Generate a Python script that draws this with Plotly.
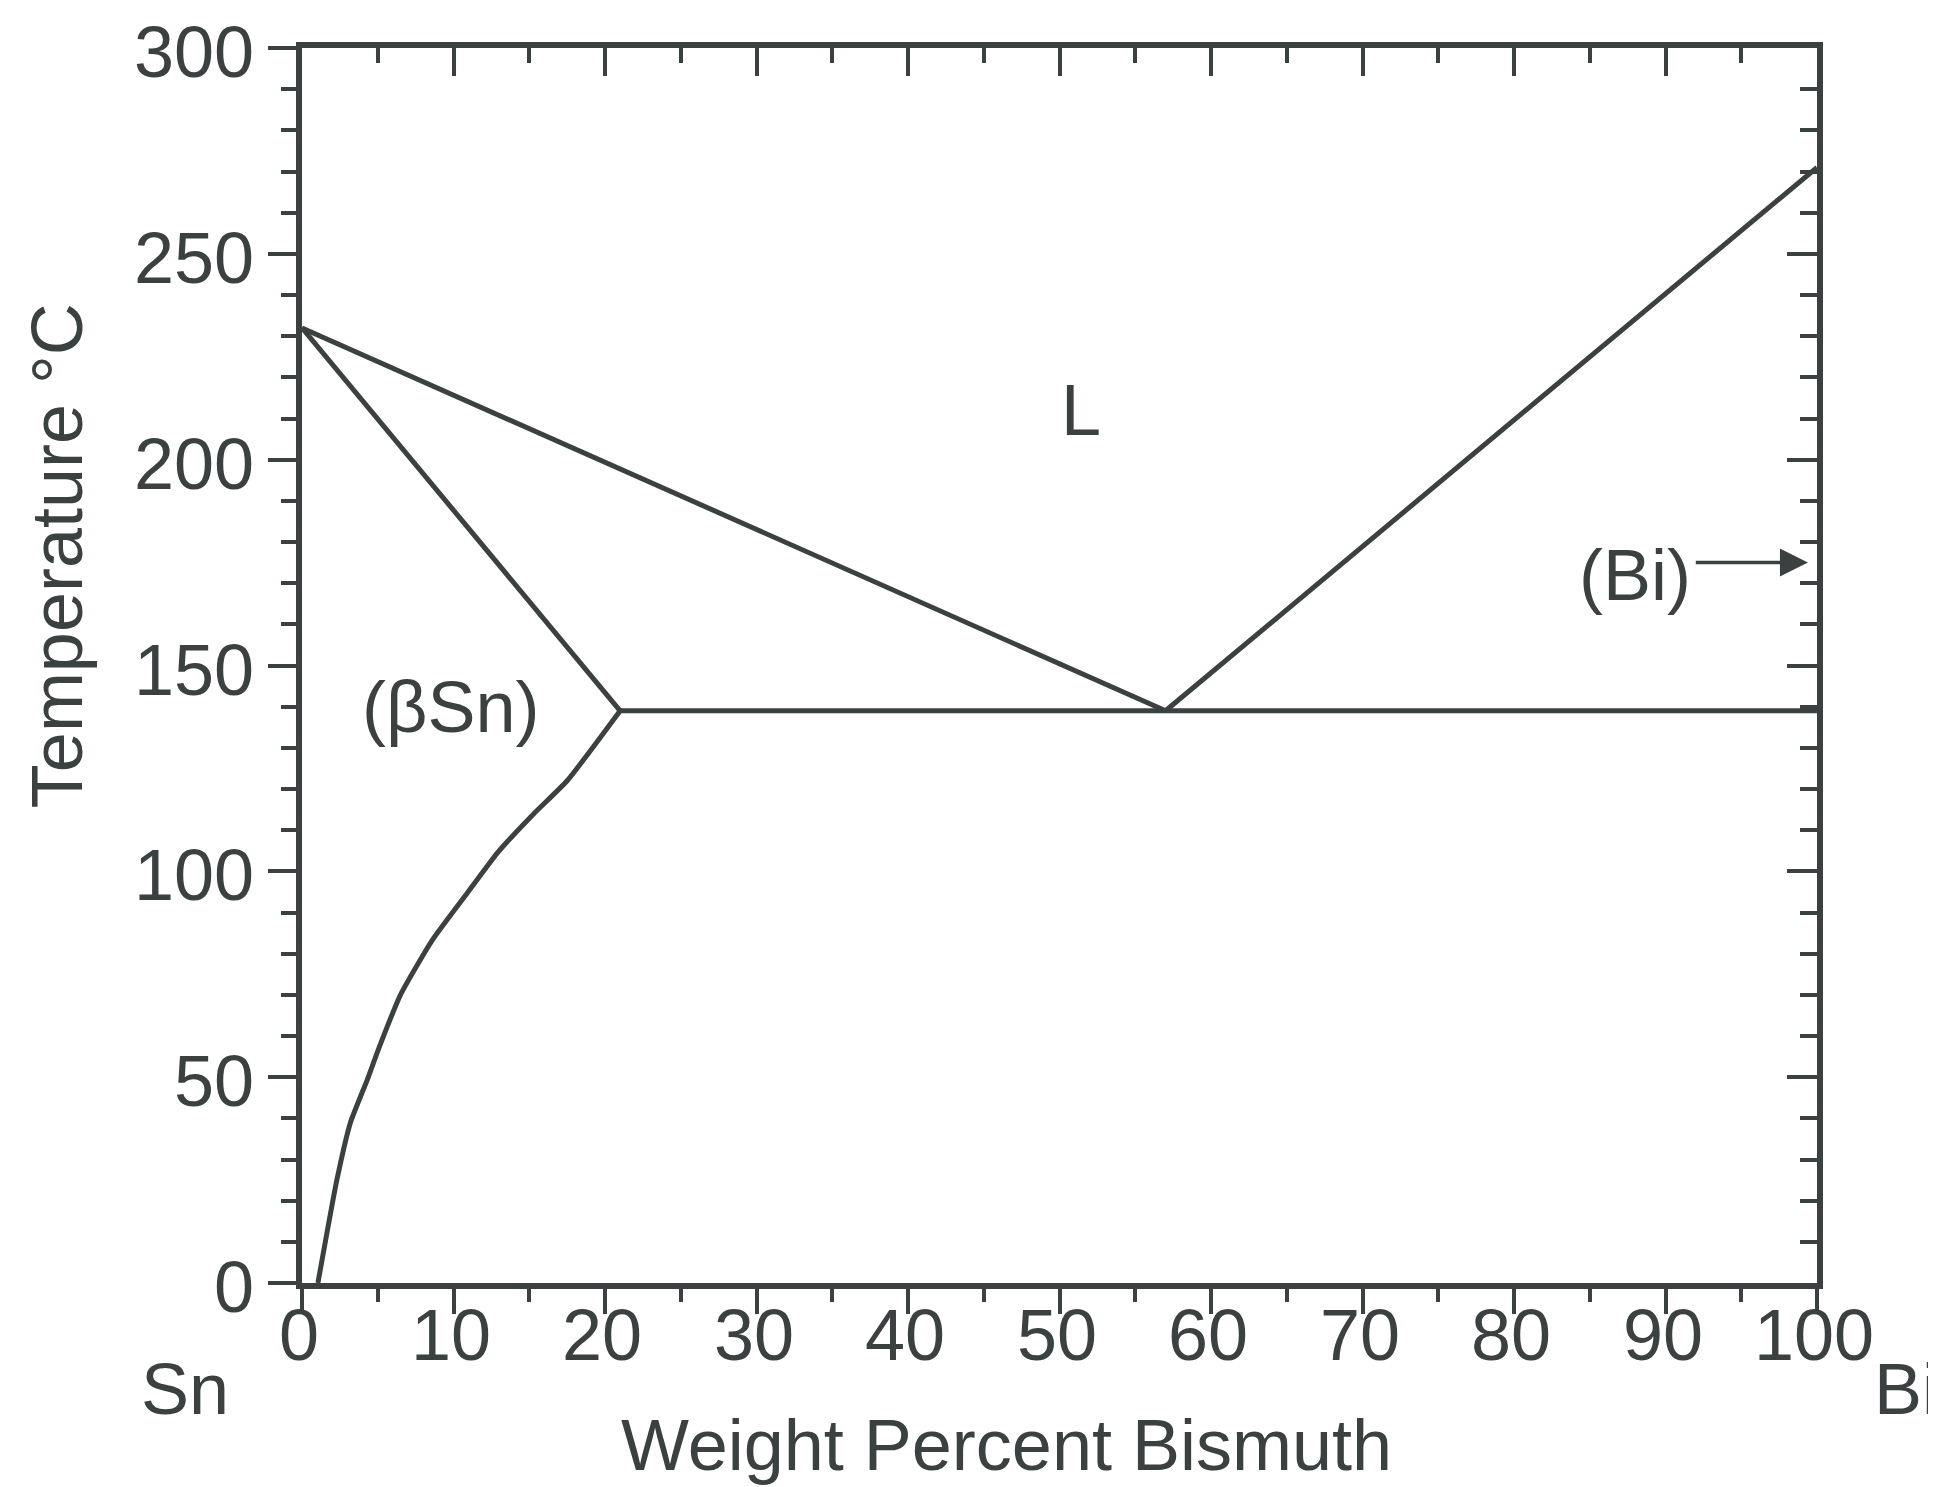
import plotly.graph_objects as go

# ---- data ----
liquidus_left_x = [0, 57]
liquidus_left_t = [232, 139]
liquidus_right_x = [57, 100]
liquidus_right_t = [139, 271]
solidus_x = [0, 21]
solidus_t = [232, 139]
eutectic_x = [21, 100]
eutectic_t = [139, 139]
solvus_x = [21, 17.5, 15.3, 12.9, 10.9, 8.6, 6.5, 5.1, 4.3, 3.2, 2.3, 1.05]
solvus_t = [139, 122, 114, 104.5, 94.7, 83.3, 70, 57.3, 49.3, 39, 25, 0]

x_ticks = [0, 10, 20, 30, 40, 50, 60, 70, 80, 90, 100]
y_ticks = [0, 50, 100, 150, 200, 250, 300]

labels = ["L", "(βSn)", "(Bi)"]
label_x = [51.4, 9.8, 88.0]
label_t = [212, 140, 172]
arrow_from = (91.9, 175)
arrow_to = (99.4, 175)

INK = "#3b4141"
FONT = "Arial, Liberation Sans, sans-serif"
FS = 72

fig = go.Figure()
line = dict(color=INK, width=5)
for xs, ts in [(liquidus_left_x, liquidus_left_t), (liquidus_right_x, liquidus_right_t),
               (solidus_x, solidus_t), (eutectic_x, eutectic_t)]:
    fig.add_trace(go.Scatter(x=xs, y=ts, mode="lines", line=line,
                             showlegend=False, hoverinfo="skip"))
fig.add_trace(go.Scatter(x=solvus_x, y=solvus_t, mode="lines",
                         line=dict(color=INK, width=5, shape="spline", smoothing=0.5),
                         showlegend=False, hoverinfo="skip"))

# invisible trace to instantiate the mirrored (top/right) axes
fig.add_trace(go.Scatter(x=[None], y=[None], xaxis="x2", yaxis="y2", mode="lines",
                         showlegend=False, hoverinfo="skip"))

txtfont = dict(family=FONT, size=FS, color=INK)

for txt, xx, tt in zip(labels, label_x, label_t):
    fig.add_annotation(x=xx, y=tt, text=txt, showarrow=False, xanchor="center",
                       yanchor="middle", font=txtfont)

fig.add_annotation(x=arrow_to[0], y=arrow_to[1], ax=arrow_from[0], ay=arrow_from[1],
                   xref="x", yref="y", axref="x", ayref="y", text="",
                   showarrow=True, arrowhead=2, arrowsize=1.6, arrowwidth=3.5,
                   arrowcolor=INK, standoff=0, startstandoff=0)

# tick labels as annotations for exact placement
for v in x_ticks:
    fig.add_annotation(x=v, y=0, xref="x", yref="y", text=str(v), showarrow=False,
                       xanchor="center", yanchor="middle", yshift=-52, xshift=-3,
                       font=txtfont)
for v in y_ticks:
    fig.add_annotation(x=0, y=v, xref="x", yref="y", text=str(v), showarrow=False,
                       xanchor="right", yanchor="middle", xshift=-46, yshift=-4,
                       font=txtfont)

fig.add_annotation(x=-0.077, y=-0.086, xref="paper", yref="paper", text="Sn",
                   xanchor="center", yanchor="middle", showarrow=False, font=txtfont)
fig.add_annotation(x=1.036, y=-0.086, xref="paper", yref="paper", text="Bi",
                   xanchor="left", yanchor="middle", showarrow=False, font=txtfont)
fig.add_annotation(x=0.465, y=-0.131, xref="paper", yref="paper",
                   text="Weight Percent Bismuth", xanchor="center", yanchor="middle",
                   showarrow=False, font=txtfont)
fig.add_annotation(x=-0.162, y=0.589, xref="paper", yref="paper",
                   text="Temperature °C", textangle=-90, xanchor="center",
                   yanchor="middle", showarrow=False, font=txtfont)

axis_common = dict(showgrid=False, zeroline=False, showline=True, linecolor=INK,
                   linewidth=6, tickcolor=INK, tickwidth=4, showticklabels=False)

fig.update_layout(
    width=1936, height=1487, autosize=False,
    margin=dict(l=294, r=127, t=40, b=212),
    paper_bgcolor="white", plot_bgcolor="white",
    xaxis=dict(range=[0, 100], tickvals=x_ticks, ticks="outside", ticklen=25,
               minor=dict(dtick=5, ticks="outside", ticklen=13, tickwidth=4, tickcolor=INK),
               **axis_common),
    yaxis=dict(range=[0, 300], tickvals=y_ticks, ticks="outside", ticklen=28,
               minor=dict(dtick=10, ticks="outside", ticklen=15, tickwidth=4, tickcolor=INK),
               **axis_common),
    xaxis2=dict(range=[0, 100], overlaying="x", side="top", tickvals=x_ticks,
                ticks="inside", ticklen=28,
                minor=dict(dtick=5, ticks="inside", ticklen=15, tickwidth=4, tickcolor=INK),
                **axis_common),
    yaxis2=dict(range=[0, 300], overlaying="y", side="right", tickvals=y_ticks,
                ticks="inside", ticklen=30,
                minor=dict(dtick=10, ticks="inside", ticklen=17, tickwidth=4, tickcolor=INK),
                **axis_common),
)

fig.write_html("out.html")
